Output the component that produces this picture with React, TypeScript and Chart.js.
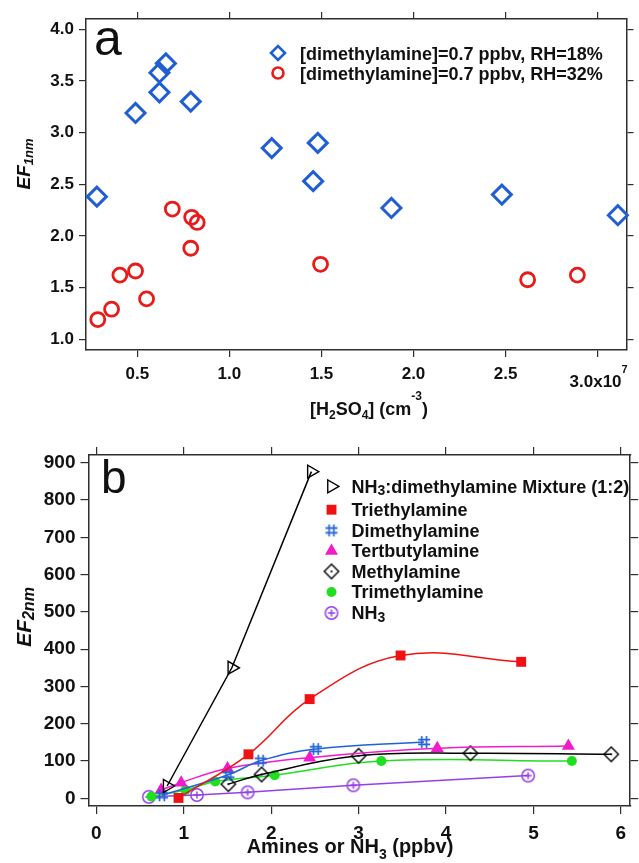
import React, { useEffect, useRef } from 'react';
import { Chart, registerables } from 'chart.js';
import { drawPoint } from 'chart.js/helpers';

Chart.register(...registerables);

const FONT = '"Liberation Sans", Arial, Helvetica, sans-serif';
const AXIS_COLOR = '#2e2e2e';
const TEXT_COLOR = '#111111';

// ---------------- Panel a data ----------------
const aXTicks = [0.5, 1.0, 1.5, 2.0, 2.5, 3.0];
const aYTicks = [1.0, 1.5, 2.0, 2.5, 3.0, 3.5, 4.0];
const aRH18Label = '[dimethylamine]=0.7 ppbv, RH=18%';
const aRH18X = [0.28, 0.49, 0.62, 0.62, 0.655, 0.79, 1.23, 1.48, 1.455, 1.88, 2.48, 3.11];
const aRH18Y = [2.38, 3.19, 3.39, 3.58, 3.67, 3.3, 2.85, 2.9, 2.53, 2.27, 2.4, 2.2];
const aRH32Label = '[dimethylamine]=0.7 ppbv, RH=32%';
const aRH32X = [0.285, 0.36, 0.405, 0.49, 0.55, 0.69, 0.795, 0.825, 0.79, 1.495, 2.62, 2.89];
const aRH32Y = [1.19, 1.29, 1.62, 1.66, 1.39, 2.26, 2.18, 2.13, 1.88, 1.725, 1.575, 1.62];
const aXTitle = '[H_{2}SO_{4}] (cm^{-3})';
const aYTitle = 'EF_{1nm}';
const aExpLabel = '3.0x10^{7}';
const aPanelLetter = 'a';

// ---------------- Panel b data ----------------
const bXTicks = [0, 1, 2, 3, 4, 5, 6];
const bYTicks = [0, 100, 200, 300, 400, 500, 600, 700, 800, 900];
const bMixLabel = 'NH_{3}:dimethylamine Mixture (1:2)';
const bMixX = [0.81, 1.55, 2.46];
const bMixY = [33, 350, 876];
const bTriethylLabel = 'Triethylamine';
const bTriethylX = [0.94, 1.74, 2.44, 3.48, 4.86];
const bTriethylY = [1, 118, 266, 383, 366];
const bDimethylLabel = 'Dimethylamine';
const bDimethylX = [0.75, 1.51, 1.88, 2.51, 3.75];
const bDimethylY = [8, 63, 101, 132, 151];
const bTertLabel = 'Tertbutylamine';
const bTertX = [0.74, 0.97, 1.5, 2.44, 3.9, 5.4];
const bTertY = [22, 42, 80, 109, 134, 140];
const bMethylLabel = 'Methylamine';
const bMethylX = [1.51, 1.89, 3.0, 4.28, 5.89];
const bMethylY = [38, 64, 114, 121, 118];
const bTrimethylLabel = 'Trimethylamine';
const bTrimethylX = [0.63, 1.02, 1.36, 2.04, 3.26, 5.44];
const bTrimethylY = [5, 22, 45, 62, 100, 100];
const bNH3Label = 'NH_{3}';
const bNH3X = [0.6, 1.15, 1.73, 2.94, 4.94];
const bNH3Y = [4, 9, 16, 35, 61];
const bXTitle = 'Amines or NH_{3} (ppbv)';
const bYTitle = 'EF_{2nm}';
const bPanelLetter = 'b';

// ---------------- helpers ----------------
const pts = (xs: number[], ys: number[]) => xs.map((x, i) => ({ x, y: ys[i] }));

type Seg = { t: string; k: 'n' | 'sub' | 'sup' };
function parseRich(s: string): Seg[] {
  const out: Seg[] = [];
  const re = /([_^])\{([^}]*)\}/g;
  let last = 0;
  let m: RegExpExecArray | null;
  while ((m = re.exec(s))) {
    if (m.index > last) out.push({ t: s.slice(last, m.index), k: 'n' });
    out.push({ t: m[2], k: m[1] === '_' ? 'sub' : 'sup' });
    last = re.lastIndex;
  }
  if (last < s.length) out.push({ t: s.slice(last), k: 'n' });
  return out;
}

function drawRich(
  ctx: CanvasRenderingContext2D,
  s: string,
  x: number,
  y: number,
  size: number,
  style: string,
  align: 'left' | 'center',
  o: { subScale?: number; subDy?: number; supDy?: number } = {}
) {
  const subScale = o.subScale ?? 0.68;
  const subDy = o.subDy ?? 0.2;
  const supDy = o.supDy ?? -0.5;
  const segs = parseRich(s);
  const fontFor = (k: string) => `${style} ${k === 'n' ? size : Math.round(size * subScale)}px ${FONT}`;
  let total = 0;
  const widths = segs.map((sg) => {
    ctx.font = fontFor(sg.k);
    const w = ctx.measureText(sg.t).width;
    total += w;
    return w;
  });
  let cx = align === 'center' ? x - total / 2 : x;
  ctx.textAlign = 'left';
  ctx.textBaseline = 'alphabetic';
  segs.forEach((sg, i) => {
    ctx.font = fontFor(sg.k);
    const dy = sg.k === 'sub' ? size * subDy : sg.k === 'sup' ? size * supDy : 0;
    ctx.fillText(sg.t, cx, y + dy);
    cx += widths[i];
  });
}

function makeMarker(size: number, draw: (g: CanvasRenderingContext2D, c: number) => void) {
  const cv = document.createElement('canvas');
  cv.width = size;
  cv.height = size;
  const g = cv.getContext('2d')!;
  draw(g, size / 2);
  return cv;
}

function axisBase(min: number, max: number, vals: number[], size: number, tickLen: number) {
  return {
    type: 'linear' as const,
    min,
    max,
    bounds: 'data' as const,
    afterBuildTicks: (s: any) => {
      s.ticks = vals.map((v) => ({ value: v }));
    },
    afterFit: (s: any) => {
      if (s.isHorizontal()) s.height = size;
      else s.width = size;
    },
    grid: { display: true, drawOnChartArea: false, drawTicks: true, tickLength: tickLen, color: AXIS_COLOR, lineWidth: 1.2 },
    border: { display: true, color: AXIS_COLOR, width: 1.5 },
  };
}

function configA(): any {
  const blue = '#1f5fd2';
  const red = '#e81a1a';
  const tickFont = { family: FONT, size: 17, weight: 'bold' as const };
  const xMin = 0.221, xMax = 3.157, yMin = 0.895, yMax = 4.1;
  return {
    type: 'scatter',
    data: {
      datasets: [
        {
          label: aRH18Label,
          data: pts(aRH18X, aRH18Y),
          pointStyle: 'rectRot',
          pointRadius: 9.5,
          pointBorderWidth: 3,
          pointBorderColor: blue,
          pointBackgroundColor: 'rgba(0,0,0,0)',
          borderColor: blue,
          backgroundColor: 'rgba(0,0,0,0)',
          clip: false,
          legendRadius: 7,
          legendWidth: 2.6,
        },
        {
          label: aRH32Label,
          data: pts(aRH32X, aRH32Y),
          pointStyle: 'circle',
          pointRadius: 7,
          pointBorderWidth: 2.8,
          pointBorderColor: red,
          pointBackgroundColor: 'rgba(0,0,0,0)',
          borderColor: red,
          backgroundColor: 'rgba(0,0,0,0)',
          clip: false,
          legendRadius: 5.5,
          legendWidth: 2.6,
        },
      ],
    },
    options: {
      responsive: false,
      animation: false,
      events: [],
      devicePixelRatio: 1,
      layout: { padding: 0 },
      plugins: { legend: { display: false }, tooltip: { enabled: false }, title: { display: false } },
      scales: {
        x: {
          ...axisBase(xMin, xMax, aXTicks, 75, 7),
          position: 'bottom',
          ticks: {
            font: tickFont,
            color: TEXT_COLOR,
            padding: 7,
            maxRotation: 0,
            autoSkip: false,
            callback: (v: number) => (Math.abs(v - 3) < 1e-9 ? '' : Number(v).toFixed(1)),
          },
        },
        x2: { ...axisBase(xMin, xMax, aXTicks, 19, 7), axis: 'x', position: 'top', ticks: { display: false } },
        y: {
          ...axisBase(yMin, yMax, aYTicks, 86, 7),
          position: 'left',
          ticks: { font: tickFont, color: TEXT_COLOR, padding: 5, autoSkip: false, callback: (v: number) => Number(v).toFixed(1) },
        },
        y2: { ...axisBase(yMin, yMax, aYTicks, 6.5, 7), axis: 'y', position: 'right', ticks: { display: false } },
      },
    },
    plugins: [
      {
        id: 'panelAText',
        afterDraw(chart: any) {
          const ctx: CanvasRenderingContext2D = chart.ctx;
          ctx.save();
          ctx.fillStyle = TEXT_COLOR;
          ctx.font = `50px ${FONT}`;
          ctx.textAlign = 'left';
          ctx.textBaseline = 'alphabetic';
          ctx.fillText(aPanelLetter, 94, 55);
          // legend
          const rows = [59.5, 79.5];
          chart.data.datasets.forEach((ds: any, i: number) => {
            ctx.save();
            ctx.strokeStyle = ds.pointBorderColor;
            ctx.fillStyle = ds.pointBackgroundColor;
            ctx.lineWidth = ds.legendWidth;
            drawPoint(ctx, { pointStyle: ds.pointStyle, rotation: 0, radius: ds.legendRadius, borderWidth: ds.legendWidth } as any, 278, rows[i] - 6.5);
            ctx.restore();
            ctx.fillStyle = TEXT_COLOR;
            drawRich(ctx, ds.label, 300, rows[i], 18, 'bold', 'left');
          });
          // exponent tick label
          const px = chart.scales.x.getPixelForValue(3.0);
          drawRich(ctx, aExpLabel, px + 1, 387, 17, 'bold', 'center', { subScale: 0.65, supDy: -0.82 });
          // x title
          drawRich(ctx, aXTitle, 310, 415, 18, 'bold', 'left', { subScale: 0.68, subDy: 0.2, supDy: -0.82 });
          // y title
          ctx.save();
          ctx.translate(30, 164);
          ctx.rotate(-Math.PI / 2);
          drawRich(ctx, aYTitle, 0, 0, 19, 'italic bold', 'center', { subScale: 0.68, subDy: 0.15 });
          ctx.restore();
          ctx.restore();
        },
      },
    ],
  };
}

function configB(): any {
  const red = '#f01212';
  const blue = '#1f62d8';
  const magenta = '#f01ccc';
  const green = '#1ee01e';
  const purple = '#9440e8';
  const black = '#000000';
  const tickFont = { family: FONT, size: 19, weight: 'bold' as const };
  const xMin = -0.09, xMax = 6.106, yMin = -20.6, yMax = 920.6;

  const hash = makeMarker(14, (g, c) => {
    g.strokeStyle = blue;
    g.lineWidth = 1.6;
    g.beginPath();
    g.moveTo(c - 2.4, c - 6); g.lineTo(c - 2.4, c + 6);
    g.moveTo(c + 2.4, c - 6); g.lineTo(c + 2.4, c + 6);
    g.moveTo(c - 6, c - 2.4); g.lineTo(c + 6, c - 2.4);
    g.moveTo(c - 6, c + 2.4); g.lineTo(c + 6, c + 2.4);
    g.stroke();
  });
  const diamondDot = makeMarker(18, (g, c) => {
    g.strokeStyle = black;
    g.lineWidth = 1.4;
    g.beginPath();
    g.moveTo(c - 7.2, c); g.lineTo(c, c - 7.2); g.lineTo(c + 7.2, c); g.lineTo(c, c + 7.2); g.closePath();
    g.stroke();
    g.fillStyle = black;
    g.beginPath();
    g.arc(c, c, 1.1, 0, Math.PI * 2);
    g.fill();
  });
  const circlePlus = makeMarker(16, (g, c) => {
    g.strokeStyle = purple;
    g.lineWidth = 1.5;
    g.beginPath();
    g.arc(c, c, 6.2, 0, Math.PI * 2);
    g.stroke();
    g.beginPath();
    g.moveTo(c - 3.6, c); g.lineTo(c + 3.6, c);
    g.moveTo(c, c - 3.6); g.lineTo(c, c + 3.6);
    g.stroke();
  });

  const line = (label: string, xs: number[], ys: number[], color: string, extra: any) => ({
    label,
    data: pts(xs, ys),
    borderColor: color,
    backgroundColor: color,
    borderWidth: 1.5,
    pointBorderColor: color,
    pointBackgroundColor: color,
    pointBorderWidth: 1.4,
    tension: 0.4,
    cubicInterpolationMode: 'default',
    clip: false,
    ...extra,
  });

  return {
    type: 'line',
    data: {
      datasets: [
        line(bMixLabel, bMixX, bMixY, black, { pointStyle: 'triangle', pointRotation: 90, pointRadius: 7.5, pointBackgroundColor: 'rgba(0,0,0,0)', tension: 0 }),
        line(bTriethylLabel, bTriethylX, bTriethylY, red, { pointStyle: 'rect', pointRadius: 7, pointBorderWidth: 0 }),
        line(bDimethylLabel, bDimethylX, bDimethylY, blue, { pointStyle: hash, pointRadius: 6 }),
        line(bTertLabel, bTertX, bTertY, magenta, { pointStyle: 'triangle', pointRadius: 7.5, pointBorderWidth: 0 }),
        line(bMethylLabel, bMethylX, bMethylY, black, { pointStyle: diamondDot, pointRadius: 7 }),
        line(bTrimethylLabel, bTrimethylX, bTrimethylY, green, { pointStyle: 'circle', pointRadius: 5, pointBorderWidth: 0 }),
        line(bNH3Label, bNH3X, bNH3Y, purple, { pointStyle: circlePlus, pointRadius: 6, tension: 0 }),
      ],
    },
    options: {
      responsive: false,
      animation: false,
      events: [],
      devicePixelRatio: 1,
      layout: { padding: 0 },
      plugins: { legend: { display: false }, tooltip: { enabled: false }, title: { display: false } },
      scales: {
        x: {
          ...axisBase(xMin, xMax, bXTicks, 57, 8),
          position: 'bottom',
          ticks: { font: tickFont, color: TEXT_COLOR, padding: 8, maxRotation: 0, autoSkip: false, callback: (v: number) => String(v) },
        },
        x2: { ...axisBase(xMin, xMax, bXTicks, 30, 8), axis: 'x', position: 'top', ticks: { display: false } },
        y: {
          ...axisBase(yMin, yMax, bYTicks, 88.5, 8),
          position: 'left',
          ticks: { font: tickFont, color: TEXT_COLOR, padding: 5, autoSkip: false, callback: (v: number) => String(v) },
        },
        y2: { ...axisBase(yMin, yMax, bYTicks, 6.5, 8), axis: 'y', position: 'right', ticks: { display: false } },
      },
    },
    plugins: [
      {
        id: 'panelBText',
        afterDraw(chart: any) {
          const ctx: CanvasRenderingContext2D = chart.ctx;
          ctx.save();
          ctx.fillStyle = TEXT_COLOR;
          ctx.font = `46px ${FONT}`;
          ctx.textAlign = 'left';
          ctx.textBaseline = 'alphabetic';
          ctx.fillText(bPanelLetter, 101, 68);
          const rows = [67.7, 91, 111.7, 132.3, 152.7, 173.3, 194.3];
          chart.data.datasets.forEach((ds: any, i: number) => {
            ctx.save();
            ctx.strokeStyle = ds.pointBorderColor;
            ctx.fillStyle = ds.pointBackgroundColor;
            ctx.lineWidth = ds.pointBorderWidth;
            drawPoint(
              ctx,
              { pointStyle: ds.pointStyle, rotation: ds.pointRotation || 0, radius: ds.pointRadius, borderWidth: ds.pointBorderWidth } as any,
              331.5,
              rows[i] - 6.3
            );
            ctx.restore();
            ctx.fillStyle = TEXT_COLOR;
            drawRich(ctx, ds.label, 351.5, rows[i], 18, 'bold', 'left', { subScale: 0.75, subDy: 0.15 });
          });
          drawRich(ctx, bXTitle, 350, 428, 20, 'bold', 'center', { subScale: 0.72, subDy: 0.3 });
          ctx.save();
          ctx.translate(30.5, 192);
          ctx.rotate(-Math.PI / 2);
          drawRich(ctx, bYTitle, 0, 0, 21, 'italic bold', 'center', { subScale: 0.75, subDy: 0.15 });
          ctx.restore();
          ctx.restore();
        },
      },
    ],
  };
}

export default function App() {
  const refA = useRef<HTMLCanvasElement>(null);
  const refB = useRef<HTMLCanvasElement>(null);
  useEffect(() => {
    const chartA = new Chart(refA.current as HTMLCanvasElement, configA());
    const chartB = new Chart(refB.current as HTMLCanvasElement, configB());
    return () => {
      chartA.destroy();
      chartB.destroy();
    };
  }, []);
  return (
    <div style={{ position: 'absolute', left: 0, top: 0, width: 639, height: 863, background: '#ffffff', overflow: 'hidden' }}>
      <canvas ref={refA} width={639} height={425} style={{ position: 'absolute', left: 0, top: 0, width: 639, height: 425 }} />
      <canvas ref={refB} width={639} height={438} style={{ position: 'absolute', left: 0, top: 425, width: 639, height: 438 }} />
    </div>
  );
}
